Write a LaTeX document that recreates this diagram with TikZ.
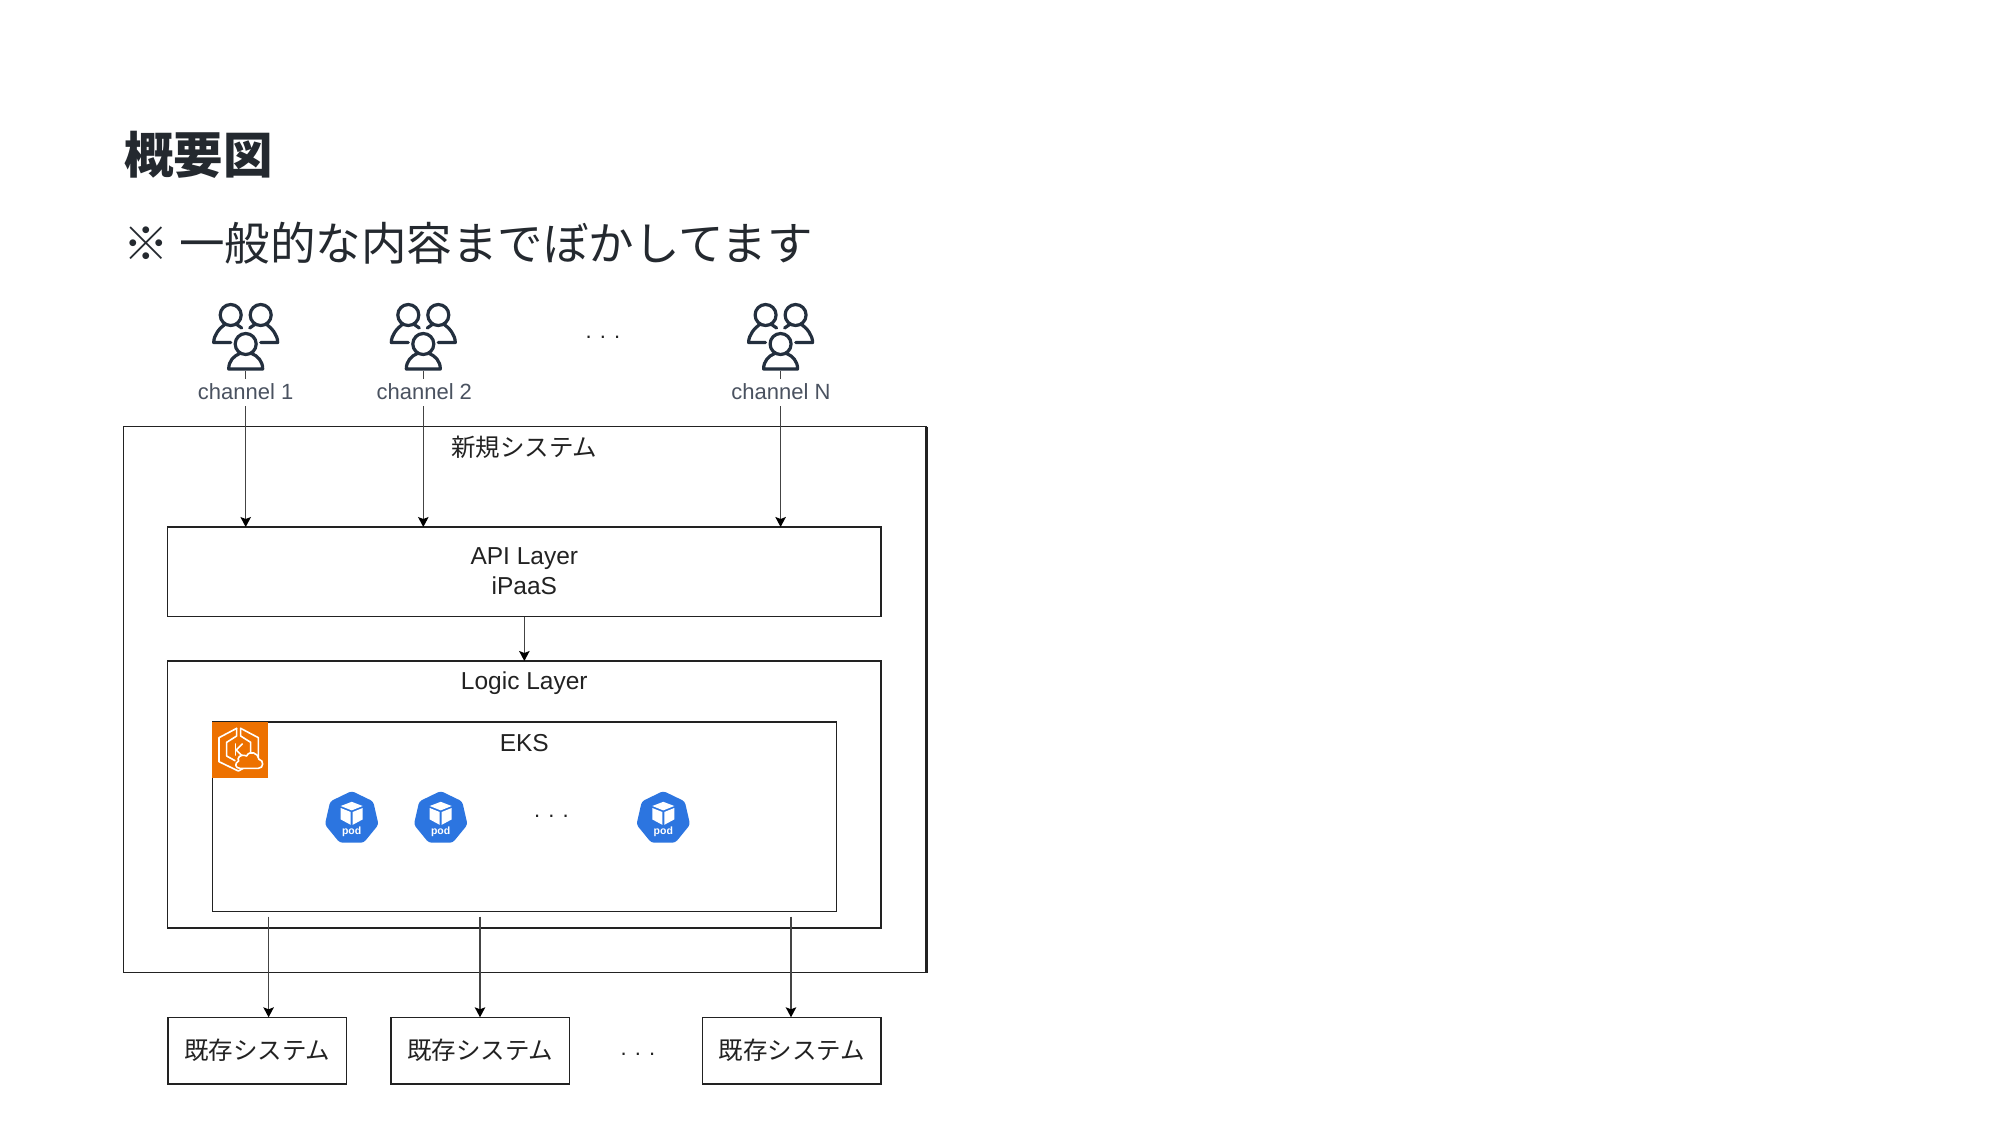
\documentclass[tikz,border=0pt]{standalone}
\usepackage{fontspec}
\setmainfont{Liberation Sans}
\newfontfamily\jp{Noto Sans CJK JP}
\usetikzlibrary{arrows.meta}
\definecolor{ink}{HTML}{222222}
\definecolor{titleink}{HTML}{24292F}
\definecolor{edgeink}{HTML}{444444}
\definecolor{userink}{HTML}{232F3E}
\definecolor{userlabel}{HTML}{4A5260}
\definecolor{podblue}{HTML}{2C75E0}
\definecolor{eksorange}{HTML}{ED7100}
\newcommand{\bodyfont}{\fontsize{24.5}{30}\selectfont}
\tikzset{
  x=1pt,y=-1pt,
  box/.style={draw=ink,line width=1.3pt,outer sep=0pt,inner sep=0pt,align=center,text=ink,font=\bodyfont},
  arr/.style={draw=edgeink,line width=1.3pt,-{Stealth[length=10pt,width=10.5pt,inset=2pt,color=black]}},
  lbl/.style={text=ink,font=\bodyfont,inner sep=0pt},
  chlabel/.style={fill=white,text=userlabel,font=\fontsize{22}{26}\selectfont,inner sep=1pt,minimum height=27pt},
  dotsl/.style={text=ink,font=\fontsize{22}{28}\selectfont,inner sep=0pt,anchor=base},
  users/.pic={
    \begin{scope}[draw=userink,line width=3.2pt,line cap=round,line join=round]
      \draw (-15,-56) circle[radius=10.5];
      \draw (15,-56) circle[radius=10.5];
      \draw (0,-27) circle[radius=10.5];
      \draw (-6,-17.5) .. controls (-12,-15) and (-17,-10) .. (-17,-2) -- (17,-2) .. controls (17,-10) and (12,-15) .. (6,-17.5);
      \draw (-15,-28.5) -- (-32,-28.5) .. controls (-32,-36) and (-26,-43) .. (-21,-46.5);
      \draw (-9,-46.5) -- (-4,-43);
      \draw (15,-28.5) -- (32,-28.5) .. controls (32,-36) and (26,-43) .. (21,-46.5);
      \draw (9,-46.5) -- (4,-43);
    \end{scope}
  },
  pod/.pic={
    \fill[podblue,rounded corners=3pt] (0,-27.4) -- (21.5,-17) -- (26.8,6.2) -- (12,24.3) -- (-12,24.3) -- (-26.8,6.2) -- (-21.5,-17) -- cycle;
    \fill[white] (0,-16.6) -- (11,-12.4) -- (0,-8) -- (-11,-12.4) -- cycle;
    \fill[white] (-11,-10.4) -- (-1,-6.4) -- (-1,6.4) -- (-11,1) -- cycle;
    \fill[white] (11,-10.4) -- (1,-6.4) -- (1,6.4) -- (11,1) -- cycle;
    \node[text=white,inner sep=0pt,font=\fontsize{10.5}{12}\selectfont\bfseries] at (0,13.6) {pod};
  }
}
\begin{document}
\begin{tikzpicture}
\useasboundingbox[fill=white] (0,0) rectangle (2000,1125);

% headings
\node[anchor=base west,inner sep=0pt,text=titleink,font=\jp\bfseries\fontsize{49.5}{56}\selectfont] (title) at (124,173) {概要図};
\node[anchor=base west,inner sep=0pt,text=titleink,font=\jp\fontsize{45.5}{54}\selectfont] (subtitle) at (123.5,260.5) {※ 一般的な内容までぼかしてます};

% containers
\node[box,minimum width=802.5pt,minimum height=546pt,anchor=north west] (outer) at (123.5,426.7) {};
\node[lbl,font=\jp\bodyfont] (outertxt) at (524.3,447.3) {新規システム};
\draw[draw=ink,line width=3pt] (outer.north east) -- (outer.south east);

\node[box,minimum width=713.3pt,minimum height=89.6pt,anchor=north west] (api) at (167.7,527) {};
\node[lbl,align=center] (apitxt) at (524.3,571) {API Layer\\iPaaS};

\node[box,minimum width=713.3pt,minimum height=267pt,anchor=north west] (logic) at (167.7,661) {};
\node[lbl] (logictxt) at (524.3,683.5) {Logic Layer};

\node[box,minimum width=624.4pt,minimum height=189.7pt,anchor=north west] (eks) at (212.3,722) {};
\node[lbl] (ekstxt) at (524.3,743.5) {EKS};

% existing systems
\node[box,font=\jp\bodyfont,minimum width=178.7pt,minimum height=66.7pt,anchor=north west] (sys1) at (168,1017.3) {既存システム};
\node[box,font=\jp\bodyfont,minimum width=178.7pt,minimum height=66.7pt,anchor=north west] (sys2) at (391,1017.3) {既存システム};
\node[box,font=\jp\bodyfont,minimum width=178.7pt,minimum height=66.7pt,anchor=north west] (sys3) at (702.3,1017.3) {既存システム};

% channel anchors and connectors
\coordinate (ch1) at (245.7,371);
\coordinate (ch2) at (423.3,371);
\coordinate (ch3) at (780.6,371);
\draw[arr] (ch1) -- (ch1 |- api.north);
\draw[arr] (ch2) -- (ch2 |- api.north);
\draw[arr] (ch3) -- (ch3 |- api.north);
\draw[arr] (api.south) -- (logic.north);
\coordinate (e1) at (268.6,916.7);
\coordinate (e2) at (480,916.7);
\coordinate (e3) at (791,916.7);
\draw[arr] (e1) -- (e1 |- sys1.north);
\draw[arr] (e2) -- (e2 |- sys2.north);
\draw[arr] (e3) -- (e3 |- sys3.north);

% channel icons and labels
\pic at (ch1) {users};
\pic at (ch2) {users};
\pic at (ch3) {users};
\node[chlabel] (lab1) at (245.7,392) {channel 1};
\node[chlabel] (lab2) at (424.3,392) {channel 2};
\node[chlabel] (lab3) at (781,392) {channel N};

% ellipses
\node[dotsl] (dots1) at (603,338) {. . .};
\node[dotsl] (dots2) at (551.5,817) {. . .};
\node[dotsl] (dots3) at (638,1055) {. . .};

% pods
\pic at (351.7,818.4) {pod};
\pic at (440.7,818.4) {pod};
\pic at (663.3,818.4) {pod};

% EKS icon
\fill[eksorange] (212.3,722) rectangle (268.3,777.7);
\begin{scope}[shift={(190,700)},x=0.3333pt,y=-0.3333pt,draw=white,line width=1.6pt,line join=round,line cap=round]
  \draw (140,85) -- (87,113) -- (87,185) -- (145,213) -- (160,205);
  \draw (140,85) -- (140,108) -- (110,127) -- (110,168) -- (135,182);
  \draw (152,85) -- (205,113) -- (205,170);
  \draw (152,85) -- (152,108) -- (182,127) -- (182,158);
  \draw (137,132) -- (137,165);
  \draw (157,132) -- (139,150) -- (155,166);
  \draw[fill=eksorange] (150,205) -- (205,205) .. controls (222,205) and (222,180) .. (207,178)
     .. controls (205,158) and (178,150) .. (170,168)
     .. controls (150,160) and (140,175) .. (146,183)
     .. controls (132,190) and (136,205) .. (150,205) -- cycle;
\end{scope}
\end{tikzpicture}
\end{document}
